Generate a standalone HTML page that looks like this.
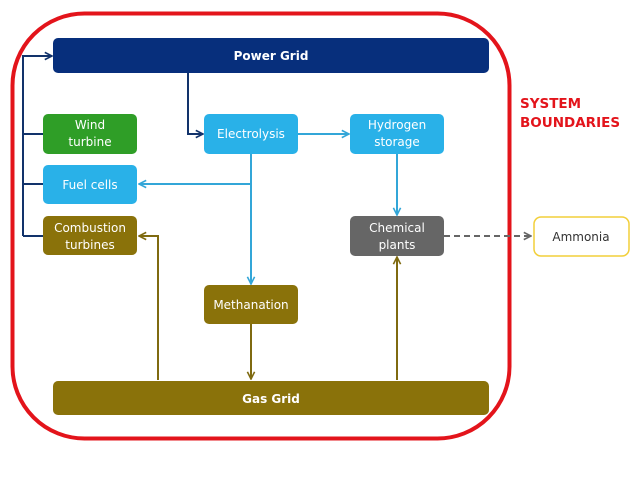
<!DOCTYPE html>
<html><head><meta charset="utf-8"><style>
html,body{margin:0;padding:0;background:#fff;}
body{width:638px;height:479px;overflow:hidden;}
text{font-family:"DejaVu Sans","Liberation Sans",sans-serif;}
</style></head><body>
<svg width="638" height="479" viewBox="0 0 638 479" xmlns="http://www.w3.org/2000/svg">
<defs>
<marker id="ad" viewBox="0 0 10 10" refX="9" refY="5" markerWidth="9" markerHeight="9" orient="auto" markerUnits="userSpaceOnUse"><path d="M1,1 L9,5 L1,9" fill="none" stroke="#12336b" stroke-width="1.8"/></marker>
<marker id="al" viewBox="0 0 10 10" refX="9" refY="5" markerWidth="9" markerHeight="9" orient="auto" markerUnits="userSpaceOnUse"><path d="M1,1 L9,5 L1,9" fill="none" stroke="#33a6d8" stroke-width="1.8"/></marker>
<marker id="ao" viewBox="0 0 10 10" refX="9" refY="5" markerWidth="9" markerHeight="9" orient="auto" markerUnits="userSpaceOnUse"><path d="M1,1 L9,5 L1,9" fill="none" stroke="#7f6a10" stroke-width="1.8"/></marker>
<marker id="ag" viewBox="0 0 10 10" refX="9" refY="5" markerWidth="9" markerHeight="9" orient="auto" markerUnits="userSpaceOnUse"><path d="M1,1 L9,5 L1,9" fill="none" stroke="#666" stroke-width="1.8"/></marker>
</defs>
<rect x="12.5" y="13.5" width="497" height="425" rx="72" fill="none" stroke="#e3141b" stroke-width="4"/>
<text x="520" y="108" font-size="13.5" font-weight="bold" fill="#e3141b">SYSTEM</text>
<text x="520" y="127" font-size="13.5" font-weight="bold" fill="#e3141b">BOUNDARIES</text>
<g fill="none" stroke="#12336b" stroke-width="2">
<path d="M23,236 L23,56 L52,56" marker-end="url(#ad)"/>
<path d="M23,134 H43 M23,184 H43 M23,236 H43"/>
<path d="M188,73 V134 H203" marker-end="url(#ad)"/>
</g>
<g fill="none" stroke="#33a6d8" stroke-width="2">
<path d="M298,134 H349" marker-end="url(#al)"/>
<path d="M251,153 V284" marker-end="url(#al)"/>
<path d="M251,184 H139" marker-end="url(#al)"/>
<path d="M397,153 V215" marker-end="url(#al)"/>
</g>
<g fill="none" stroke="#7f6a10" stroke-width="2">
<path d="M251,324 V379" marker-end="url(#ao)"/>
<path d="M158,380 V236 H139" marker-end="url(#ao)"/>
<path d="M397,380 V257" marker-end="url(#ao)"/>
</g>
<path d="M444,236 H531" fill="none" stroke="#666" stroke-width="2" stroke-dasharray="6,4" marker-end="url(#ag)"/>
<rect x="53" y="38" width="436" height="35" rx="5" fill="#072f7c"/>
<text x="271" y="60" font-size="12" font-weight="bold" fill="#fff" text-anchor="middle">Power Grid</text>
<rect x="53" y="381" width="436" height="34" rx="5" fill="#8a720a"/>
<text x="271" y="403" font-size="12" font-weight="bold" fill="#fff" text-anchor="middle">Gas Grid</text>
<g font-size="12" fill="#fff" text-anchor="middle">
<rect x="43" y="114" width="94" height="40" rx="5" fill="#2f9e27"/>
<text x="90" y="129">Wind</text><text x="90" y="146">turbine</text>
<rect x="43" y="165" width="94" height="39" rx="5" fill="#29b1e8"/>
<text x="90" y="189">Fuel cells</text>
<rect x="43" y="216" width="94" height="39" rx="5" fill="#8a720a"/>
<text x="90" y="232">Combustion</text><text x="90" y="249">turbines</text>
<rect x="204" y="114" width="94" height="40" rx="5" fill="#29b1e8"/>
<text x="251" y="138">Electrolysis</text>
<rect x="350" y="114" width="94" height="40" rx="5" fill="#29b1e8"/>
<text x="397" y="129">Hydrogen</text><text x="397" y="146">storage</text>
<rect x="350" y="216" width="94" height="40" rx="5" fill="#666"/>
<text x="397" y="232">Chemical</text><text x="397" y="249">plants</text>
<rect x="204" y="285" width="94" height="39" rx="5" fill="#8a720a"/>
<text x="251" y="309">Methanation</text>
</g>
<rect x="534" y="217" width="95" height="39" rx="7" fill="#fff" stroke="#f2cf3a" stroke-width="1.5"/>
<text x="581" y="241" font-size="12" fill="#333" text-anchor="middle">Ammonia</text>
</svg>
</body></html>
